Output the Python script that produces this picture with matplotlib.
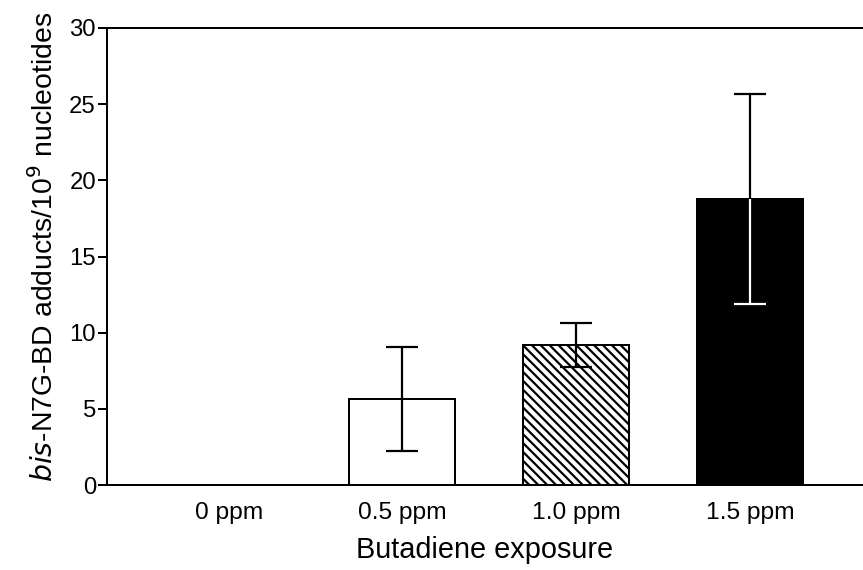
import numpy as np
import matplotlib.pyplot as plt

plt.rcParams['font.family'] = ['Liberation Sans', 'DejaVu Sans']
plt.rcParams['hatch.linewidth'] = 2.0

# data
groups = ['0 ppm', '0.5 ppm', '1.0 ppm', '1.5 ppm']
adducts = [0.0, 5.65, 9.2, 18.75]
sem = [0.0, 3.4, 1.45, 6.9]

DPI = 80
fig = plt.figure(figsize=(863 / DPI, 570 / DPI), dpi=DPI)
ax = fig.add_axes([107 / 863, 85 / 570, 1 - 107 / 863, 457 / 570])

x = np.arange(len(groups))
faces = ['white', 'white', 'white', 'black']
hatches = [None, None, '\\\\\\', None]

bars = ax.bar(x, adducts, width=0.61, color=faces, edgecolor='black',
              linewidth=1.8, zorder=2)
for b, h in zip(bars, hatches):
    if h:
        b.set_hatch(h)

# error bars, black for the open bars
ax.errorbar(x[1:], adducts[1:], yerr=sem[1:], fmt='none', ecolor='black',
            elinewidth=2, capsize=14, capthick=2, zorder=3)

# white part of the error bar inside the black bar
wb = ax.errorbar(x[3:], adducts[3:], yerr=sem[3:], fmt='none', ecolor='white',
                 elinewidth=2, capsize=14, capthick=2, zorder=4)
for art in wb.lines[1] + wb.lines[2]:
    art.set_clip_path(bars[3])

ax.set_xlim(-0.70, 3.65)
ax.set_ylim(0, 30)
ax.set_yticks(np.arange(0, 31, 5))
ax.set_xticks(x)
ax.set_xticklabels(groups)

ax.spines['right'].set_visible(False)
for s in ['left', 'bottom', 'top']:
    ax.spines[s].set_linewidth(1.8)

ax.tick_params(axis='y', direction='out', length=8, width=1.8, pad=2,
               labelsize=21.5)
ax.tick_params(axis='x', length=0, pad=15, labelsize=22)

ax.set_xlabel('Butadiene exposure', fontsize=26, labelpad=11)
ax.set_ylabel(r'$\it{bis}$-N7G-BD adducts/10$^9$ nucleotides', fontsize=25.5)
ax.yaxis.set_label_coords(-0.064, 0.522)

fig.savefig('out.png', dpi=DPI)
